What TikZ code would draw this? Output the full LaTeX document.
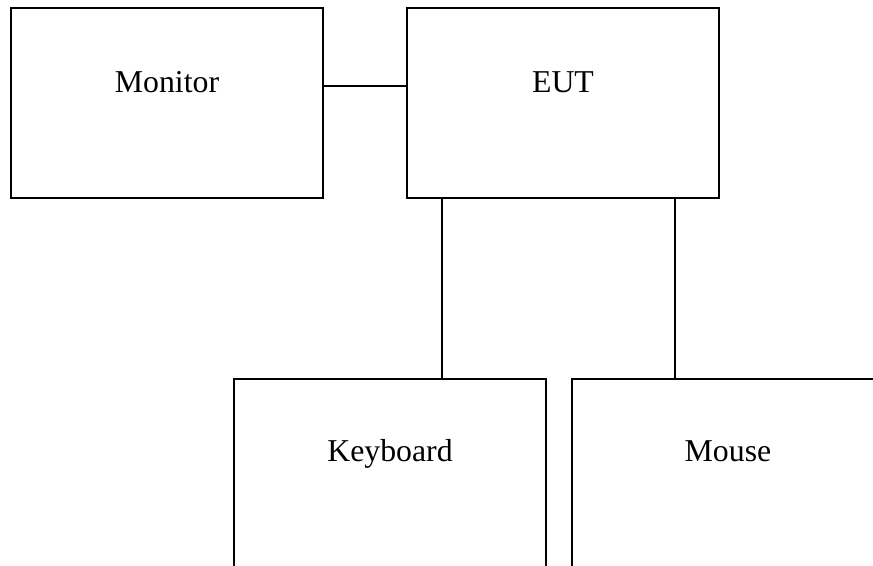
\documentclass[tikz,border=0pt]{standalone}
\usepackage{fontspec}
\setmainfont{Liberation Serif}
\usetikzlibrary{calc}
\begin{document}
\begin{tikzpicture}[x=0.5pt,y=-0.5pt,
  line width=1pt,unit box/.style={draw,rectangle,minimum width=156pt,minimum height=95pt,inner sep=0pt,outer sep=0pt},
  box label/.style={anchor=base,inner sep=0pt,font=\fontsize{15.9}{19}\selectfont}]

  \clip (0,0) rectangle (873,566);

  \node[unit box] (mon) at (167,103) {};
  \node[unit box] (eut) at (563,103) {};
  \node[unit box] (kbd) at (390,474) {};
  \node[unit box] (mouse) at (728,474) {};

  \node[box label] (mon-txt) at ($(mon.north)+(0,85)$) {Monitor};
  \node[box label] (eut-txt) at ($(eut.north)+(0,85)$) {EUT};
  \node[box label] (kbd-txt) at ($(kbd.north)+(0,83)$) {Keyboard};
  \node[box label] (mouse-txt) at ($(mouse.north)+(0,83)$) {Mouse};

  \coordinate (mon-out) at ($(mon.east)+(0,-17)$);
  \coordinate (kbd-in) at ($(kbd.north)+(52,0)$);
  \coordinate (mouse-in) at ($(mouse.north)+(-53,0)$);

  \path
   (mon-out) edge (mon-out -| eut.west)
   (kbd-in |- eut.south) edge (kbd-in)
   (mouse-in |- eut.south) edge (mouse-in);
\end{tikzpicture}
\end{document}
